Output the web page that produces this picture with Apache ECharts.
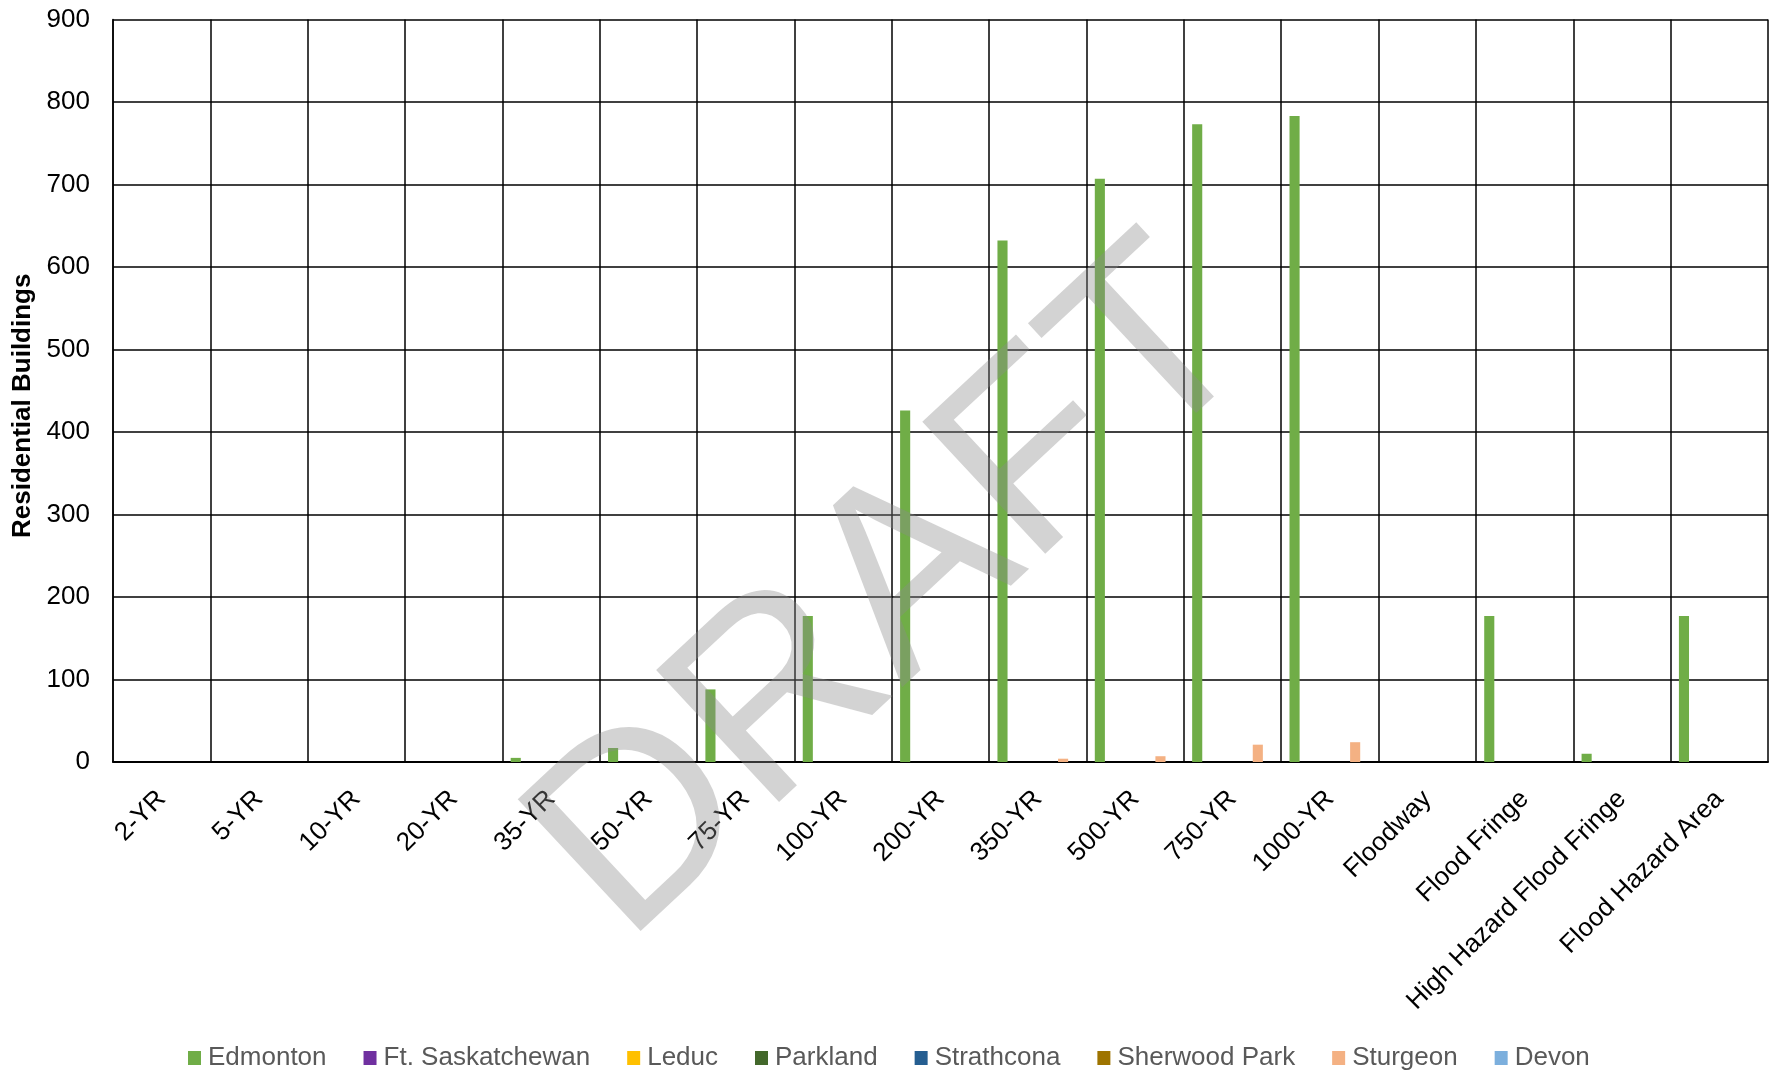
<!DOCTYPE html>
<html>
<head>
<meta charset="utf-8">
<title>Residential Buildings by Flood Event</title>
<script src="https://cdn.jsdelivr.net/npm/echarts@6/dist/echarts.min.js"></script>
<style>
  html, body { margin: 0; padding: 0; background: #ffffff; }
  #chart { width: 1774px; height: 1071px; }
</style>
</head>
<body>
<div id="chart"></div>
<script>
// Flood scenarios along the x axis
const categories = ['2-YR', '5-YR', '10-YR', '20-YR', '35-YR', '50-YR', '75-YR', '100-YR',
  '200-YR', '350-YR', '500-YR', '750-YR', '1000-YR', 'Floodway', 'Flood Fringe',
  'High Hazard Flood Fringe', 'Flood Hazard Area'];

// Residential buildings affected, per municipality
const edmonton        = [0, 0, 0, 0, 5, 17, 88, 177, 426, 632, 707, 773, 783, 0, 177, 10, 177];
const ftSaskatchewan  = [0, 0, 0, 0, 0, 0, 0, 0, 0, 0, 0, 0, 0, 0, 0, 0, 0];
const leduc           = [0, 0, 0, 0, 0, 0, 0, 0, 0, 0, 0, 0, 0, 0, 0, 0, 0];
const parkland        = [0, 0, 0, 0, 0, 0, 0, 0, 0, 0, 0, 0, 0, 0, 0, 0, 0];
const strathcona      = [0, 0, 0, 0, 0, 0, 0, 0, 0, 0, 0, 0, 0, 0, 0, 0, 0];
const sherwoodPark    = [0, 0, 0, 0, 0, 0, 0, 0, 0, 0, 0, 0, 0, 0, 0, 0, 0];
const sturgeon        = [0, 0, 0, 0, 0, 0, 0, 0, 0, 4, 7, 21, 24, 0, 0, 0, 0];
const devon           = [0, 0, 0, 0, 0, 0, 0, 0, 0, 0, 0, 0, 0, 0, 0, 0, 0];

const seriesNames = ['Edmonton', 'Ft. Saskatchewan', 'Leduc', 'Parkland', 'Strathcona',
  'Sherwood Park', 'Sturgeon', 'Devon'];
const seriesValues = [edmonton, ftSaskatchewan, leduc, parkland, strathcona,
  sherwoodPark, sturgeon, devon];
const seriesColors = ['#70AD47', '#7030A0', '#FFC000', '#43682B', '#255E91',
  '#9E7400', '#F4B183', '#7CAFDD'];

// y axis range
const yMin = 0, yMax = 900, yStep = 100;

const FONT = '"Liberation Sans", Arial, Helvetica, sans-serif';

const chart = echarts.init(document.getElementById('chart'), null, { renderer: 'canvas' });

chart.setOption({
  backgroundColor: '#ffffff',
  animation: false,
  textStyle: { fontFamily: FONT },
  grid: { left: 113, right: 6, top: 19.5, bottom: 309, containLabel: false },
  legend: {
    data: seriesNames,
    left: 183,
    top: 1040,
    itemWidth: 13,
    itemHeight: 14,
    itemGap: 37,
    icon: 'rect',
    textStyle: { color: '#595959', fontSize: 26, fontFamily: FONT, padding: [0, 0, 0, 2] }
  },
  xAxis: {
    type: 'category',
    data: categories,
    boundaryGap: true,
    axisLine: { show: true, lineStyle: { color: '#000000', width: 2 } },
    axisTick: { show: false },
    splitLine: { show: true, interval: 0, lineStyle: { color: '#000000', width: 1.5 } },
    axisLabel: {
      interval: 0,
      rotate: 45,
      margin: 33,
      color: '#000000',
      fontSize: 26,
      fontFamily: FONT
    }
  },
  yAxis: {
    type: 'value',
    min: yMin,
    max: yMax,
    interval: yStep,
    name: 'Residential Buildings',
    nameLocation: 'middle',
    nameGap: 73,
    nameTextStyle: {
      color: '#000000',
      fontSize: 26,
      fontWeight: 'bold',
      fontFamily: FONT,
      padding: [0, 30, 0, 0]
    },
    axisLine: { show: true, lineStyle: { color: '#000000', width: 1.5 } },
    axisTick: { show: false },
    splitLine: { show: true, lineStyle: { color: '#000000', width: 1.5 } },
    axisLabel: { margin: 23, color: '#000000', fontSize: 26, fontFamily: FONT }
  },
  series: seriesNames.map((name, i) => ({
    name: name,
    type: 'bar',
    data: seriesValues[i],
    barGap: '0%',
    barCategoryGap: '17%',
    itemStyle: { color: seriesColors[i] }
  })),
  graphic: [{
    type: 'text',
    x: 895,
    y: 595,
    rotation: 43 * Math.PI / 180,
    z: 100,
    silent: true,
    style: {
      text: 'DRAFT',
      fontSize: 262,
      fontFamily: FONT,
      fill: 'rgba(140,140,140,0.38)',
      align: 'center',
      verticalAlign: 'middle',
      textAlign: 'center',
      textVerticalAlign: 'middle'
    }
  }]
});
</script>
</body>
</html>
